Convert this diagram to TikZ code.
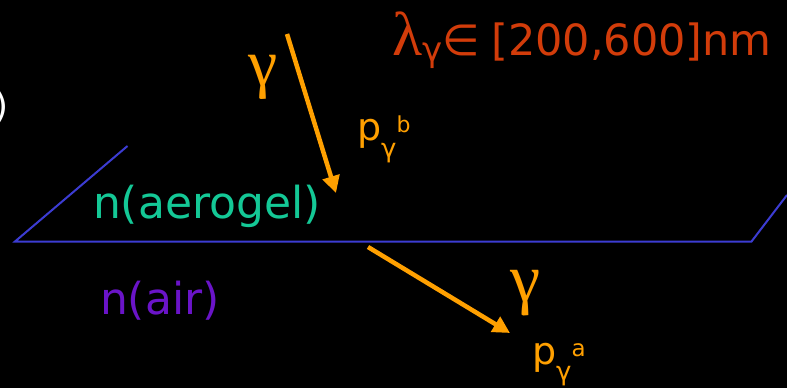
\documentclass[tikz,border=0pt]{standalone}
\usepackage{fontspec}
\setmainfont{DejaVu Sans}
\newfontfamily\serifgreek{Liberation Serif}
\usetikzlibrary{arrows.meta}
\definecolor{photon}{RGB}{255,160,0}
\definecolor{lamred}{RGB}{210,60,10}
\definecolor{aerog}{RGB}{20,200,150}
\definecolor{airpur}{RGB}{106,20,200}
\definecolor{surf}{RGB}{60,60,210}
\tikzset{
  lbl/.style={inner sep=0pt, outer sep=0pt},
  ray/.style={draw=photon, line width=4.5pt, -{Triangle[length=17pt,width=17pt]}},
  surface/.style={draw=surf, line width=2pt, line join=miter},
}
\newcommand{\fs}[1]{\fontsize{#1}{#1}\selectfont}
\begin{document}
\begin{tikzpicture}[x=1pt,y=-1pt]
\fill[black] (0,0) rectangle (787,388);
\useasboundingbox (0,0) rectangle (787,388);

% surface (aerogel / air boundary)
\coordinate (s1) at (127.5,146);
\coordinate (s2) at (15,241.5);
\coordinate (s3) at (751.5,241.5);
\coordinate (s4) at (787,195);
\draw[surface] (s1) -- (s2) -- (s3) -- (s4);

% photons
\coordinate (g1s) at (287,34);
\coordinate (g1e) at (336,193);
\coordinate (g2s) at (368,247);
\coordinate (g2e) at (510,333);
\draw[ray] (g1s) -- (g1e);
\draw[ray] (g2s) -- (g2e);

% labels
\node[lbl, text=white, anchor=east] (paren) at (9,107) {\fs{36})};
\node[lbl, text=photon] (gtop) at (263,77) {\serifgreek\fs{66}γ};
\node[lbl, text=photon] (gbot) at (526,293) {\serifgreek\fs{68}γ};
\node[lbl, text=photon, anchor=base west] (pb) at (357,140)
  {\fs{38}p\raisebox{-17pt}{\fs{26}γ}\raisebox{8pt}{\fs{22}b}};
\node[lbl, text=photon, anchor=base west] (pa) at (532,364)
  {\fs{38}p\raisebox{-16pt}{\fs{26}γ}\raisebox{8pt}{\fs{23}a}};
\node[lbl, text=lamred, anchor=base west] (lam) at (392,55)
  {{\serifgreek\fs{62}λ}\raisebox{-6pt}{\fs{34}γ}{\fs{43}∈\hspace{-2pt} [200,600]nm}};
\node[lbl, text=aerog, anchor=base west] (aer) at (93,218) {\fs{44}n(aerogel)};
\node[lbl, text=airpur, anchor=base west] (air) at (100,314) {\fs{44}n(air)};
\end{tikzpicture}
\end{document}
